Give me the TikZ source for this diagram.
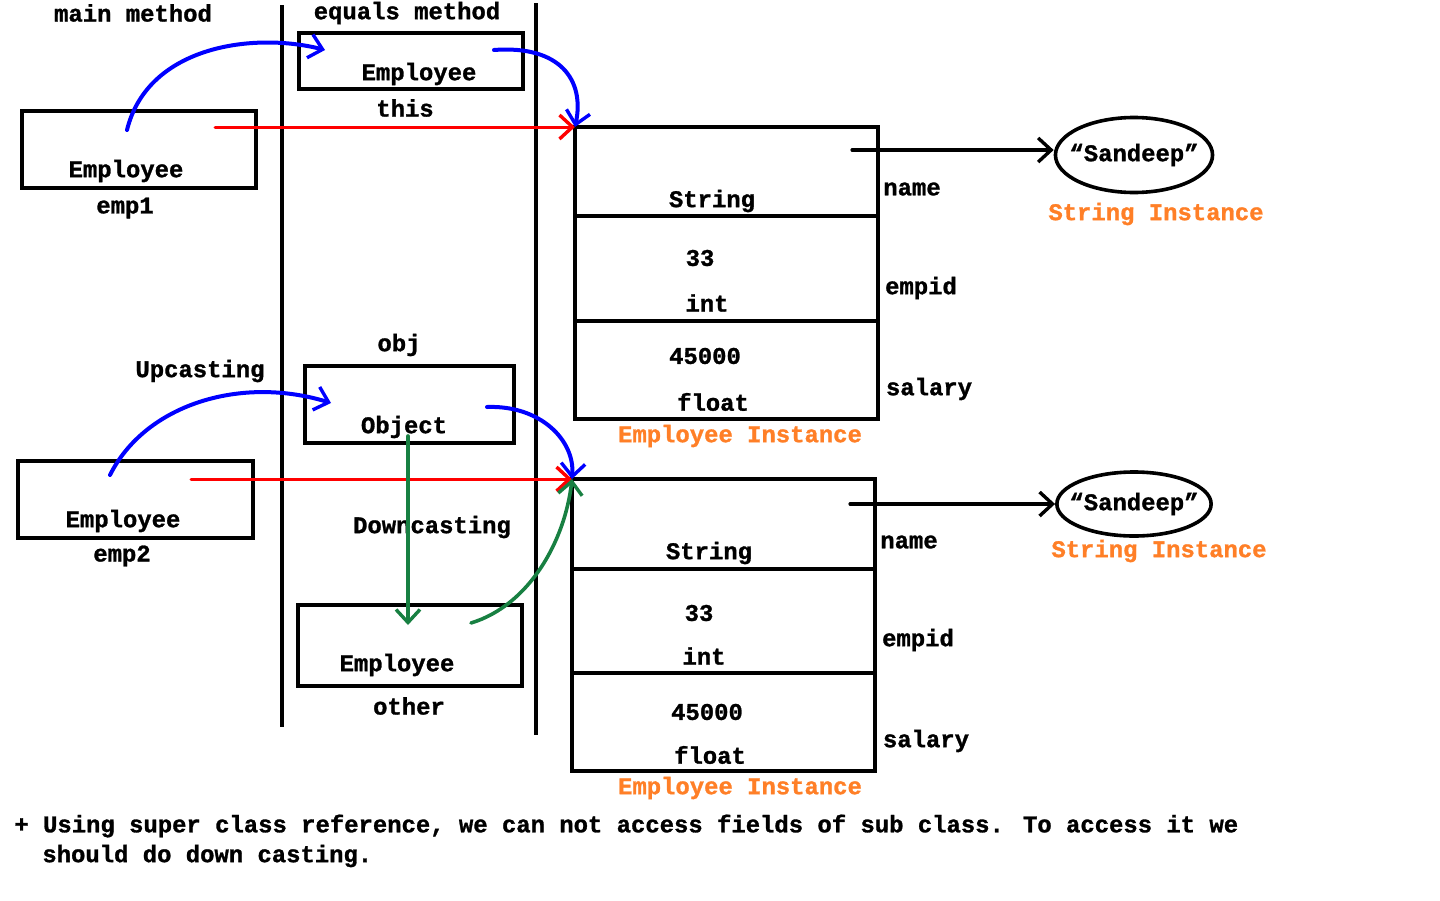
\documentclass[tikz,border=0pt]{standalone}
\usepackage{fontspec}
\setmainfont[BoldFeatures={FakeBold=1.2}]{Liberation Mono}
\usetikzlibrary{positioning, calc, shapes.geometric, arrows.meta}
\definecolor{paintorange}{RGB}{255,127,39}
\definecolor{paintgreen}{RGB}{24,128,66}
\tikzstyle{Box} = [draw, line width=1.8pt, inner sep=0pt, outer sep=0pt, anchor=north west]
\tikzstyle{Arrow} = [line width=1.6pt, line cap=round, -{Straight Barb[length=6.5pt,width=12pt,line width=1.7pt]}]
\tikzstyle{Label} = [inner sep=0pt]
\tikzstyle{Inst} = [inner sep=0pt, text=paintorange]
\tikzstyle{StrObj} = [draw, ellipse, line width=1.8pt, inner ysep=0pt]

\begin{document}
\begin{tikzpicture}[x=0.5pt, y=-0.5pt, font=\fontsize{11.95}{14}\selectfont\bfseries]
    \useasboundingbox (0,0) rectangle (1440,900);

    % stack frames
    \draw[line width=2pt] (282,5) -- (282,727);
    \draw[line width=2pt] (536,3) -- (536,735);
    \node[Label] (main) at (133,13) {main method};
    \node[Label] (equals) at (407,13) {equals method};

    % main method references
    \node[Box, minimum width=117pt, minimum height=38.5pt] (emp1) at (22,111) {};
    \node[Label] (emp1t) at (126,171) {Employee};
    \node[Label] (emp1n) at (125,208) {emp1};
    \node[Box, minimum width=117.5pt, minimum height=38.5pt] (emp2) at (18,461) {};
    \node[Label] (emp2t) at (123,521) {Employee};
    \node[Label] (emp2n) at (122,556) {emp2};
    \node[Label] (up) at (200,371) {Upcasting};

    % equals method references
    \node[Box, minimum width=112pt, minimum height=28pt] (this) at (299,33) {};
    \node[Label] (thist) at (419,74) {Employee};
    \node[Label] (thisn) at (405,108) {this};
    \node[Box, minimum width=104.5pt, minimum height=38.5pt] (obj) at (305,366) {};
    \node[Label] (objt) at (404,427) {Object};
    \node[Label] (objn) at (399,345) {obj};
    \node[Box, minimum width=112pt, minimum height=40.5pt] (other) at (298,605) {};
    \node[Label] (othert) at (397,665) {Employee};
    \node[Label] (othern) at (409,706) {other};
    \node[Label] (down) at (432,527) {Downcasting};

    % first Employee instance
    \node[Box, minimum width=151.5pt, minimum height=44.5pt] (name1) at (575,127) {};
    \node[Box, minimum width=151.5pt, minimum height=52.5pt, below=0pt of name1.south west, anchor=north west] (id1) {};
    \node[Box, minimum width=151.5pt, minimum height=49pt, below=0pt of id1.south west, anchor=north west] (sal1) {};
    \node[Label] (s1) at (712,201) {String};
    \node[Label] (i1a) at (700,258) {33};
    \node[Label] (i1b) at (707,303) {int};
    \node[Label] (f1a) at (705,356) {45000};
    \node[Label] (f1b) at (713,402) {float};
    \node[Label] (n1) at (912,189) {name};
    \node[Label] (e1) at (921,288) {empid};
    \node[Label] (y1) at (929,389) {salary};
    \node[Inst] (inst1) at (740,436) {Employee Instance};

    % second Employee instance
    \node[Box, minimum width=151.5pt, minimum height=45pt] (name2) at (572,479) {};
    \node[Box, minimum width=151.5pt, minimum height=52pt, below=0pt of name2.south west, anchor=north west] (id2) {};
    \node[Box, minimum width=151.5pt, minimum height=49pt, below=0pt of id2.south west, anchor=north west] (sal2) {};
    \node[Label] (s2) at (709,553) {String};
    \node[Label] (i2a) at (699,613) {33};
    \node[Label] (i2b) at (704,656) {int};
    \node[Label] (f2a) at (707,712) {45000};
    \node[Label] (f2b) at (710,755) {float};
    \node[Label] (n2) at (909,542) {name};
    \node[Label] (e2) at (918,640) {empid};
    \node[Label] (y2) at (926,741) {salary};
    \node[Inst] (inst2) at (740,788) {Employee Instance};

    % String instances
    \node[StrObj, inner xsep=-4.5pt, minimum height=37.5pt] (str1) at (1134,155) {“Sandeep”};
    \node[Inst] (strl1) at (1156,214) {String Instance};
    \node[StrObj, inner xsep=-5pt, minimum height=32pt] (str2) at (1134,504) {“Sandeep”};
    \node[Inst] (strl2) at (1159,551) {String Instance};

    % arrow start points
    \coordinate (a1) at (852,150);
    \coordinate (a2) at (850,504);
    \coordinate (r1) at (215,127);
    \coordinate (r2) at (191,479);
    \coordinate (b1) at (127,130);
    \coordinate (b1e) at (325,50);
    \coordinate (b2) at (494,50);
    \coordinate (b3) at (110,475);
    \coordinate (b3e) at (331,403);
    \coordinate (b4) at (487,407);
    \coordinate (g1) at (408,436);
    \coordinate (g1e) at (408,625);
    \coordinate (g2) at (471,623);

    \draw[Arrow] (a1) -- (a1 -| str1.west);
    \draw[Arrow] (a2) -- (a2 -| str2.west);
    \draw[Arrow, red, line width=1.5pt] (r1) -- (name1.north west);
    \draw[Arrow, red, line width=1.5pt] (r2) -- (name2.north west);
    \draw[Arrow, blue, line width=2pt] (b1) .. controls (148,45) and (255,32) .. (b1e);
    \draw[Arrow, blue, line width=2pt] (b2) .. controls (560,45) and (585,80) .. (name1.north west);
    \draw[Arrow, blue, line width=2pt] (b3) .. controls (145,405) and (240,375) .. (b3e);
    \draw[Arrow, blue, line width=2pt] (b4) .. controls (540,405) and (575,440) .. (name2.north west);
    \draw[Arrow, paintgreen, line width=1.8pt] (g1) -- (g1e);
    \draw[Arrow, paintgreen, line width=1.8pt] (g2) .. controls (530,605) and (565,540) .. (name2.north west);

    % note
    \node[Label, anchor=west] (note1) at (14,826) {+ Using super class reference, we can not access fields of sub class. To access it we};
    \node[Label, anchor=west] (note2) at (42,856) {should do down casting.};
\end{tikzpicture}
\end{document}
